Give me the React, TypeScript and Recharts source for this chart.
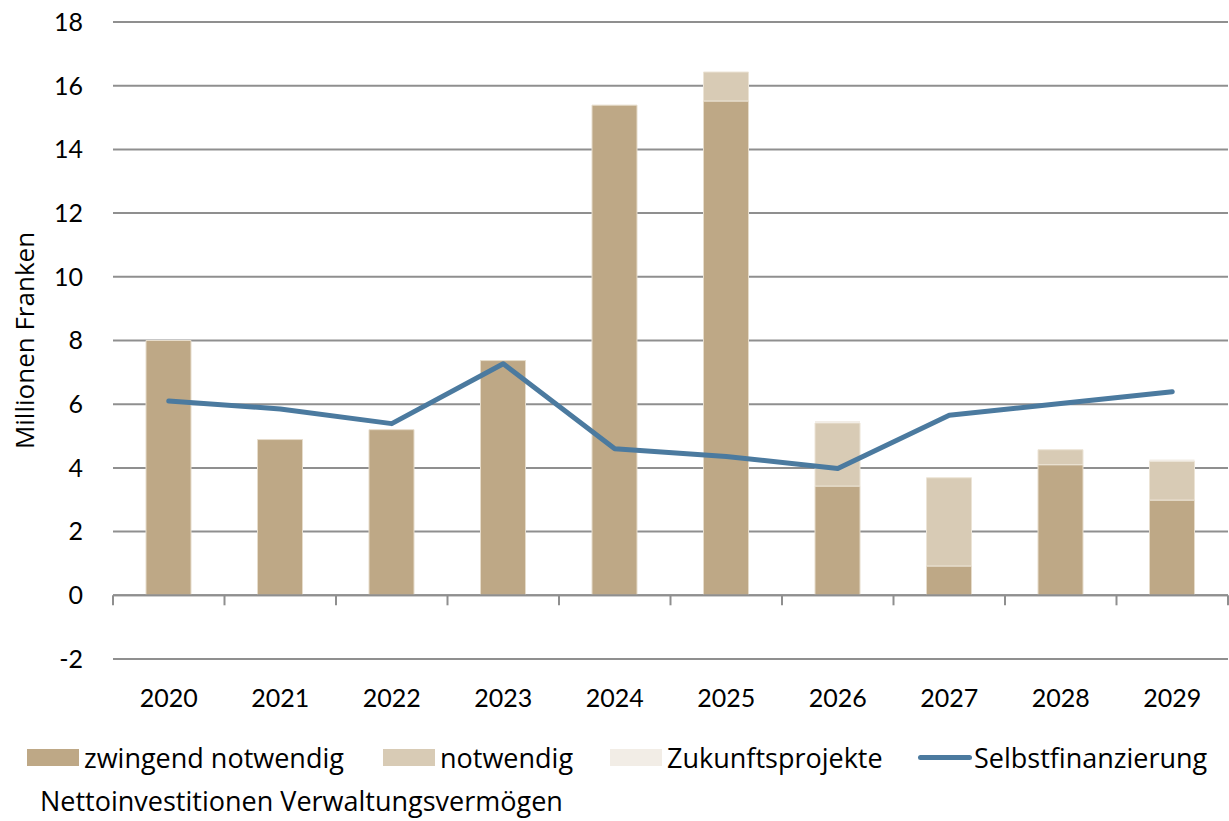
import React from 'react';
import {
  ComposedChart,
  Bar,
  Line,
  XAxis,
  YAxis,
  CartesianGrid,
  ReferenceLine,
  Legend,
} from 'recharts';

const years = ['2020', '2021', '2022', '2023', '2024', '2025', '2026', '2027', '2028', '2029'];
const zwingend = [8.0, 4.89, 5.2, 7.37, 15.39, 15.52, 3.43, 0.92, 4.1, 2.99];
const notwendig = [0, 0, 0, 0, 0, 0.91, 1.98, 2.77, 0.47, 1.22];
const zukunft = [0, 0, 0, 0, 0, 0, 0.06, 0, 0, 0.05];
const selbst = [6.1, 5.85, 5.39, 7.27, 4.6, 4.36, 3.98, 5.65, 6.02, 6.39];
const yTicks = [-2, 0, 2, 4, 6, 8, 10, 12, 14, 16, 18];

const data = years.map((year, i) => ({
  year,
  zwingend: zwingend[i],
  notwendig: notwendig[i],
  zukunft: zukunft[i],
  selbst: selbst[i],
}));

const FONT = 'Lato, "Open Sans", sans-serif';
const TEXT_FONT = '"Open Sans", Lato, sans-serif';
const C_ZW = '#bea886';
const C_NO = '#d8cbb5';
const C_ZU = '#f2ede6';
const C_LINE = '#4b7a9f';
const C_GRID = '#8f8f8f';

// zero line with category tick marks
const ZeroAxis = (props: any) => {
  const { x1, x2, y1 } = props;
  const n = years.length;
  const step = (x2 - x1) / n;
  return (
    <g>
      <line x1={x1} x2={x2} y1={y1} y2={y1} stroke={C_GRID} strokeWidth={2} />
      {Array.from({ length: n + 1 }).map((_, i) => (
        <line
          key={i}
          x1={x1 + i * step}
          x2={x1 + i * step}
          y1={y1}
          y2={y1 + 10}
          stroke={C_GRID}
          strokeWidth={2}
        />
      ))}
    </g>
  );
};

const legendItems = [
  { label: 'zwingend notwendig', color: C_ZW, type: 'box', left: 27 },
  { label: 'notwendig', color: C_NO, type: 'box', left: 383 },
  { label: 'Zukunftsprojekte', color: C_ZU, type: 'box', left: 610 },
  { label: 'Selbstfinanzierung', color: C_LINE, type: 'line', left: 918 },
];

const LegendContent = () => (
  <div style={{ position: 'relative', fontFamily: TEXT_FONT, fontSize: 27, color: '#000', width: 1229, height: 84 }}>
    {legendItems.map((it) => (
      <div
        key={it.label}
        style={{ position: 'absolute', left: it.left, top: 0, height: 40, display: 'flex', alignItems: 'center', whiteSpace: 'nowrap' }}
      >
        {it.type === 'box' ? (
          <span style={{ display: 'inline-block', width: 52, height: 17, background: it.color, marginRight: 5 }} />
        ) : (
          <span style={{ display: 'inline-block', width: 54, height: 5, borderRadius: 3, background: it.color, marginRight: 2 }} />
        )}
        <span>{it.label}</span>
      </div>
    ))}
    <div style={{ position: 'absolute', left: 40, top: 45, whiteSpace: 'nowrap' }}>
      Nettoinvestitionen Verwaltungsvermögen
    </div>
  </div>
);

export default function App() {
  return (
    <div style={{ position: 'absolute', left: 0, top: 0, width: 1229, height: 821, background: '#fff' }}>
      <ComposedChart
        width={1229}
        height={821}
        data={data}
        margin={{ top: 22, right: 1, left: 0, bottom: 102 }}
        barSize={45}
      >
        <CartesianGrid vertical={false} stroke={C_GRID} strokeWidth={2} />
        <XAxis
          dataKey="year"
          axisLine={false}
          tickLine={false}
          height={60}
          tickMargin={24}
          interval={0}
          tick={{ fill: '#000', fontSize: 25, fontFamily: FONT }}
        />
        <YAxis
          domain={[-2, 18]}
          ticks={yTicks}
          axisLine={false}
          tickLine={false}
          width={113}
          tickMargin={24}
          tick={{ fill: '#000', fontSize: 25, fontFamily: FONT }}
          label={{
            value: 'Millionen Franken',
            angle: -90,
            position: 'insideLeft',
            offset: 25,
            style: { textAnchor: 'middle', fontSize: 26, fontFamily: TEXT_FONT, fill: '#000' },
          }}
        />
        <Bar dataKey="zwingend" stackId="a" fill={C_ZW} stroke="#e6dccb" strokeWidth={1} isAnimationActive={false} />
        <Bar dataKey="notwendig" stackId="a" fill={C_NO} stroke="#ece4d6" strokeWidth={1} isAnimationActive={false} />
        <Bar dataKey="zukunft" stackId="a" fill={C_ZU} isAnimationActive={false} />
        <ReferenceLine y={0} shape={ZeroAxis} />
        <Line
          dataKey="selbst"
          stroke={C_LINE}
          strokeWidth={5}
          strokeLinecap="round"
          strokeLinejoin="round"
          dot={false}
          activeDot={false}
          type="linear"
          isAnimationActive={false}
        />
        <Legend
          verticalAlign="middle"
          align="center"
          content={<LegendContent />}
          wrapperStyle={{ top: 737, left: 0, width: 1229, height: 84 }}
        />
      </ComposedChart>
    </div>
  );
}
